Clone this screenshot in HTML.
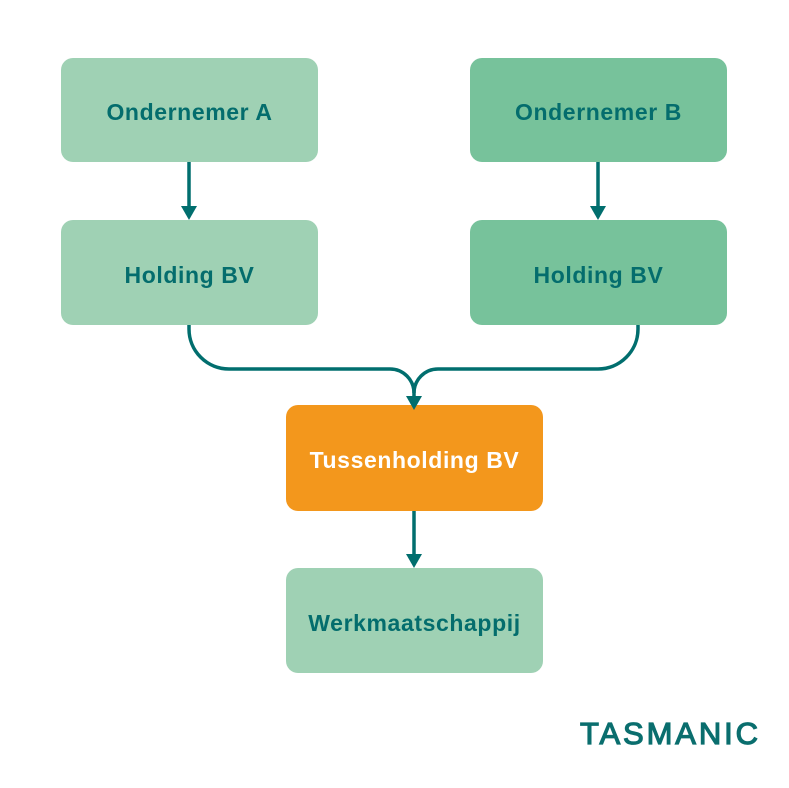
<html><head><style>
body{margin:0;width:789px;height:788px;background:#fff;position:relative;font-family:"Liberation Sans",sans-serif;overflow:hidden}
.b{position:absolute;border-radius:12px;display:flex;align-items:center;justify-content:center;font-weight:bold;font-size:23px;letter-spacing:0.6px;color:#046d6d;padding-top:5px;box-sizing:border-box}
.l{background:#9fd1b4}.d{background:#77c29b}.o{background:#f3971c;color:#fff}
</style></head><body>
<div class="b l" style="left:61px;top:58px;width:257px;height:104px">Ondernemer A</div>
<div class="b d" style="left:470px;top:58px;width:257px;height:104px">Ondernemer B</div>
<div class="b l" style="left:61px;top:220px;width:257px;height:105px">Holding BV</div>
<div class="b d" style="left:470px;top:220px;width:257px;height:105px">Holding BV</div>
<div class="b o" style="left:286px;top:405px;width:257px;height:106px">Tussenholding BV</div>
<div class="b l" style="left:286px;top:568px;width:257px;height:105px">Werkmaatschappij</div>
<svg width="789" height="788" style="position:absolute;left:0;top:0">
<g stroke="#016e6e" stroke-width="3.5" fill="none">
<path d="M189 162V208M598 162V208M414 511V556"/>
<path d="M189 325V329A40 40 0 0 0 229 369H390A24 24 0 0 1 414 393V398"/>
<path d="M638 325V329A40 40 0 0 1 598 369H438A24 24 0 0 0 414 393"/>
</g>
<g fill="#016e6e">
<path d="M181 206H197L189 220Z"/><path d="M590 206H606L598 220Z"/>
<path d="M406 396H422L414 410Z"/><path d="M406 554H422L414 568Z"/>
</g>
<text x="580" y="744" font-family="Liberation Sans,sans-serif" font-size="31" fill="#0a6e6e" stroke="#0a6e6e" stroke-width="1.2" textLength="178" lengthAdjust="spacing">TASMANIC</text>
</svg>
</body></html>
